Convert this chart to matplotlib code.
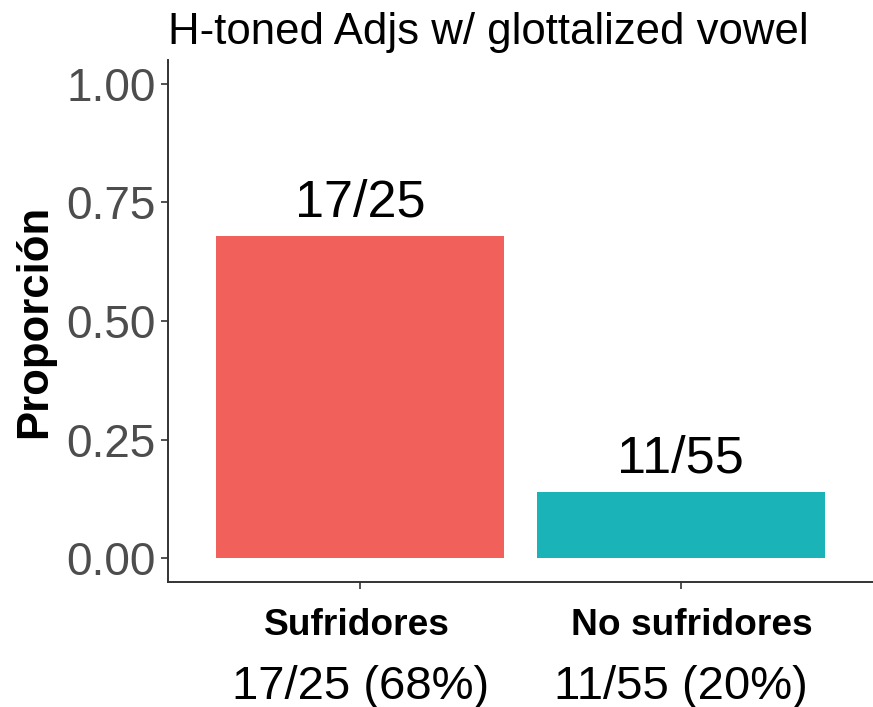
import matplotlib
matplotlib.use("Agg")
import matplotlib.pyplot as plt
from matplotlib.transforms import ScaledTranslation

plt.rcParams["font.family"] = ["Liberation Sans", "DejaVu Sans"]

# data
categories = ["Sufridores", "No sufridores"]
proportions = [0.68, 0.14]
bar_labels = ["17/25", "11/55"]
count_labels = ["17/25 (68%)", "11/55 (20%)"]
y_ticks = [0.0, 0.25, 0.50, 0.75, 1.00]
y_tick_labels = ["0.00", "0.25", "0.50", "0.75", "1.00"]

BAR_COLORS = ["#F2605C", "#1AB4B8"]
AXIS_COLOR = "#333333"
TICK_TEXT = "#4D4D4D"

fig = plt.figure(figsize=(8.73, 7.07), dpi=100, facecolor="white")
ax = fig.add_axes([168 / 873, 1 - 582 / 707, 1 - 168 / 873, (582 - 60) / 707])

x = list(range(len(categories)))
ax.bar(x, proportions, width=0.9, color=BAR_COLORS)

# labels above bars
for xi, val, lab in zip(x, proportions, bar_labels):
    ax.annotate(lab, xy=(xi, val), xytext=(0, 14), textcoords="offset points",
                ha="center", va="baseline", fontsize=37.5, color="black")

ax.set_xlim(-0.6, len(categories) - 0.4)
ax.set_ylim(-0.05, 1.05)

ax.set_yticks(y_ticks)
ax.set_yticklabels(y_tick_labels, fontsize=33, color=TICK_TEXT)
ax.set_xticks(x)
ax.set_xticklabels(categories, fontsize=26.7, fontweight="bold", color="black")

ax.tick_params(axis="y", length=5, width=1.2, color=AXIS_COLOR, pad=4)
ax.tick_params(axis="x", length=5, width=1.2, color=AXIS_COLOR, pad=14)

# small horizontal nudges of the bold category names (as in the original)
for lab, dx in zip(ax.get_xticklabels(), [-3, 11]):
    lab.set_transform(lab.get_transform() + ScaledTranslation(dx / 100, 0, fig.dpi_scale_trans))

# second line under each category
for xi, lab in zip(x, count_labels):
    ax.annotate(lab, xy=(xi, 0), xycoords=("data", "axes fraction"),
                xytext=(0, -84), textcoords="offset points",
                ha="center", va="baseline", fontsize=34, color="black",
                annotation_clip=False)

for side in ["top", "right"]:
    ax.spines[side].set_visible(False)
for side in ["left", "bottom"]:
    ax.spines[side].set_color(AXIS_COLOR)
    ax.spines[side].set_linewidth(1.4)

ax.set_ylabel("Proporción", fontsize=31.5, fontweight="bold", color="black", labelpad=8)

fig.text(168 / 873, 1 - 44 / 707, "H-toned Adjs w/ glottalized vowel",
         ha="left", va="baseline", fontsize=31.5, color="black")

plt.savefig("out.png", dpi=100, facecolor=fig.get_facecolor())
plt.close(fig)
